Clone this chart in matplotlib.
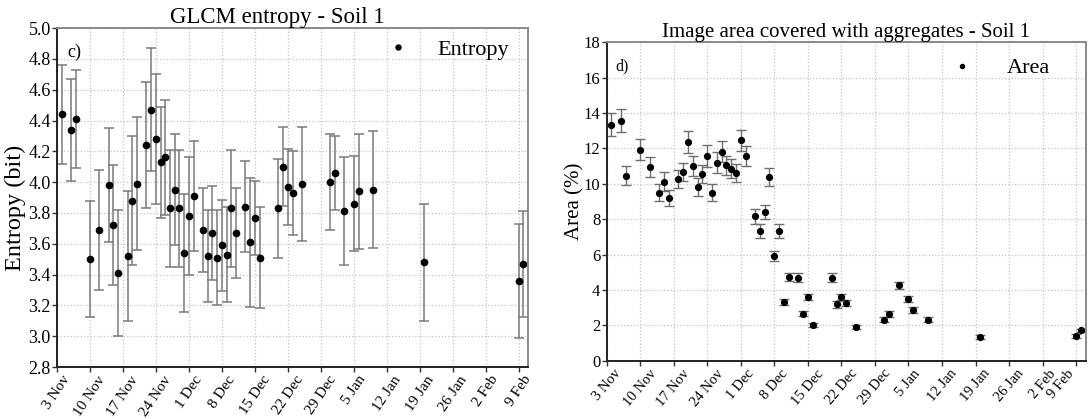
import matplotlib
matplotlib.use("Agg")
import matplotlib.pyplot as plt
import pandas as pd

# days counted from 3 Nov
entropy_days = [1, 3, 4, 7, 9, 11, 12, 13, 15, 16, 17, 19, 20, 21, 22, 23, 24, 25, 26, 27,
                28, 29, 31, 32, 33, 34, 35, 36, 37, 38, 40, 41, 42, 43, 47, 48, 49, 50, 52,
                58, 59, 61, 63, 64, 67, 78, 98, 99]
entropy_mean = [4.44, 4.34, 4.41, 3.50, 3.69, 3.98, 3.72, 3.41, 3.52, 3.88, 3.99, 4.24, 4.47,
                4.28, 4.13, 4.16, 3.83, 3.95, 3.83, 3.54, 3.78, 3.91, 3.69, 3.52, 3.67, 3.51,
                3.59, 3.53, 3.83, 3.67, 3.84, 3.61, 3.77, 3.51, 3.83, 4.10, 3.97, 3.93, 3.99,
                4.00, 4.06, 3.81, 3.86, 3.94, 3.95, 3.48, 3.36, 3.47]
entropy_err = [0.32, 0.33, 0.32, 0.375, 0.39, 0.37, 0.39, 0.41, 0.42, 0.42, 0.43, 0.41, 0.40,
               0.42, 0.36, 0.375, 0.38, 0.36, 0.38, 0.38, 0.38, 0.36, 0.27, 0.30, 0.305, 0.31,
               0.295, 0.31, 0.38, 0.29, 0.295, 0.42, 0.24, 0.33, 0.32, 0.255, 0.245, 0.27,
               0.37, 0.31, 0.24, 0.35, 0.31, 0.375, 0.38, 0.38, 0.37, 0.345]

area_days = [1, 3, 4, 7, 9, 11, 12, 13, 15, 16, 17, 18, 19, 20, 21, 22, 23, 24, 25, 26, 27,
             28, 29, 31, 32, 33, 34, 35, 36, 37, 38, 40, 41, 42, 43, 47, 48, 49, 50, 52, 58,
             59, 61, 63, 64, 67, 78, 98, 99]
area_mean = [13.35, 13.58, 10.47, 11.94, 10.94, 9.51, 10.13, 9.21, 10.30, 10.66, 12.37, 11.02,
             9.83, 10.55, 11.58, 9.51, 11.20, 11.81, 11.04, 10.85, 10.62, 12.47, 11.58, 8.17,
             7.34, 8.43, 10.38, 5.94, 7.34, 3.32, 4.75, 4.70, 2.66, 3.62, 2.02, 4.70, 3.19,
             3.62, 3.26, 1.91, 2.32, 2.66, 4.26, 3.51, 2.87, 2.32, 1.34, 1.40, 1.72]
area_err = [0.64, 0.66, 0.52, 0.61, 0.56, 0.49, 0.54, 0.45, 0.51, 0.52, 0.60, 0.55, 0.51, 0.52,
            0.60, 0.49, 0.60, 0.60, 0.55, 0.53, 0.53, 0.60, 0.57, 0.42, 0.40, 0.40, 0.52, 0.28,
            0.41, 0.16, 0.23, 0.24, 0.13, 0.16, 0.10, 0.25, 0.20, 0.16, 0.19, 0.10, 0.14, 0.16,
            0.20, 0.17, 0.18, 0.14, 0.09, 0.10, 0.10]

start = pd.Timestamp("2019-11-03")
end = pd.Timestamp("2020-02-11")
week_ticks = pd.date_range(start, periods=15, freq="7D")
tick_labels = [f"{d.day} {d:%b}" for d in week_ticks]

plt.rcParams["font.family"] = ["Liberation Serif", "DejaVu Serif"]


def style_axes(ax, ylim, yticks, yfmt, xsize, ysize, xrot):
    ax.set_xlim(start, end)
    ax.set_ylim(*ylim)
    ax.set_yticks(yticks)
    ax.set_yticklabels([yfmt.format(v) for v in yticks], fontsize=ysize)
    ax.set_xticks(week_ticks)
    ax.set_xticklabels(tick_labels, rotation=xrot, ha="center", fontsize=xsize)
    ax.grid(True, color="#c4c4c4", linestyle=":", linewidth=0.9)
    ax.set_axisbelow(True)
    ax.tick_params(direction="out", length=3.5, width=1, color="#333333", pad=1)
    for side in ("left", "bottom"):
        ax.spines[side].set_color("#222222")
        ax.spines[side].set_linewidth(1.4)
    for side in ("top", "right"):
        ax.spines[side].set_color("#8a8a8a")
        ax.spines[side].set_linewidth(1.4)


fig = plt.figure(figsize=(10.89, 4.19), dpi=100)
ax1 = fig.add_axes([0.0523, 0.124, 0.4327, 0.809])
ax2 = fig.add_axes([0.557, 0.139, 0.440, 0.760])

# c) entropy
x1 = start + pd.to_timedelta(entropy_days, unit="D")
ax1.errorbar(x1, entropy_mean, yerr=entropy_err, fmt="none", ecolor="#7a7a7a",
             elinewidth=1.1, capsize=3.5, capthick=1.1)
ax1.plot(x1, entropy_mean, "o", color="black", markersize=4.5, label="Entropy")
style_axes(ax1, (2.8, 5.0), [2.8 + 0.2 * i for i in range(12)], "{:.1f}", 11, 13, 56)
ax1.set_title("GLCM entropy - Soil 1", fontsize=16.5, pad=1, x=0.468)
ax1.set_ylabel("Entropy (bit)", fontsize=17.5)
ax1.yaxis.set_label_coords(-0.066, 0.47)
ax1.text(0.022, 0.955, "c)", transform=ax1.transAxes, fontsize=13, va="top")
ax1.legend(loc="upper right", bbox_to_anchor=(0.979, 0.994), frameon=False, fontsize=16,
           handletextpad=0.8, markerscale=0.8, borderaxespad=0)

# d) area
x2 = start + pd.to_timedelta(area_days, unit="D")
ax2.errorbar(x2, area_mean, yerr=area_err, fmt="none", ecolor="#6e6e6e",
             elinewidth=1.0, capsize=3.5, capthick=1.0)
ax2.plot(x2, area_mean, "o", color="black", markersize=4.2, label="Area")
style_axes(ax2, (0, 18), list(range(0, 19, 2)), "{:d}", 10.5, 12, 50)
# keep the last date label inside the figure
ax2.get_xticklabels()[-1].set_horizontalalignment("right")
ax2.set_title("Image area covered with aggregates - Soil 1", fontsize=15, pad=1)
ax2.set_ylabel("Area (%)", fontsize=15)
ax2.yaxis.set_label_coords(-0.047, 0.5)
ax2.text(0.018, 0.95, "d)", transform=ax2.transAxes, fontsize=11.5, va="top")
ax2.legend(loc="upper right", bbox_to_anchor=(0.944, 0.979), frameon=False, fontsize=16,
           handletextpad=1.0, markerscale=0.7, borderaxespad=0)

fig.savefig("out.png", dpi=100)
